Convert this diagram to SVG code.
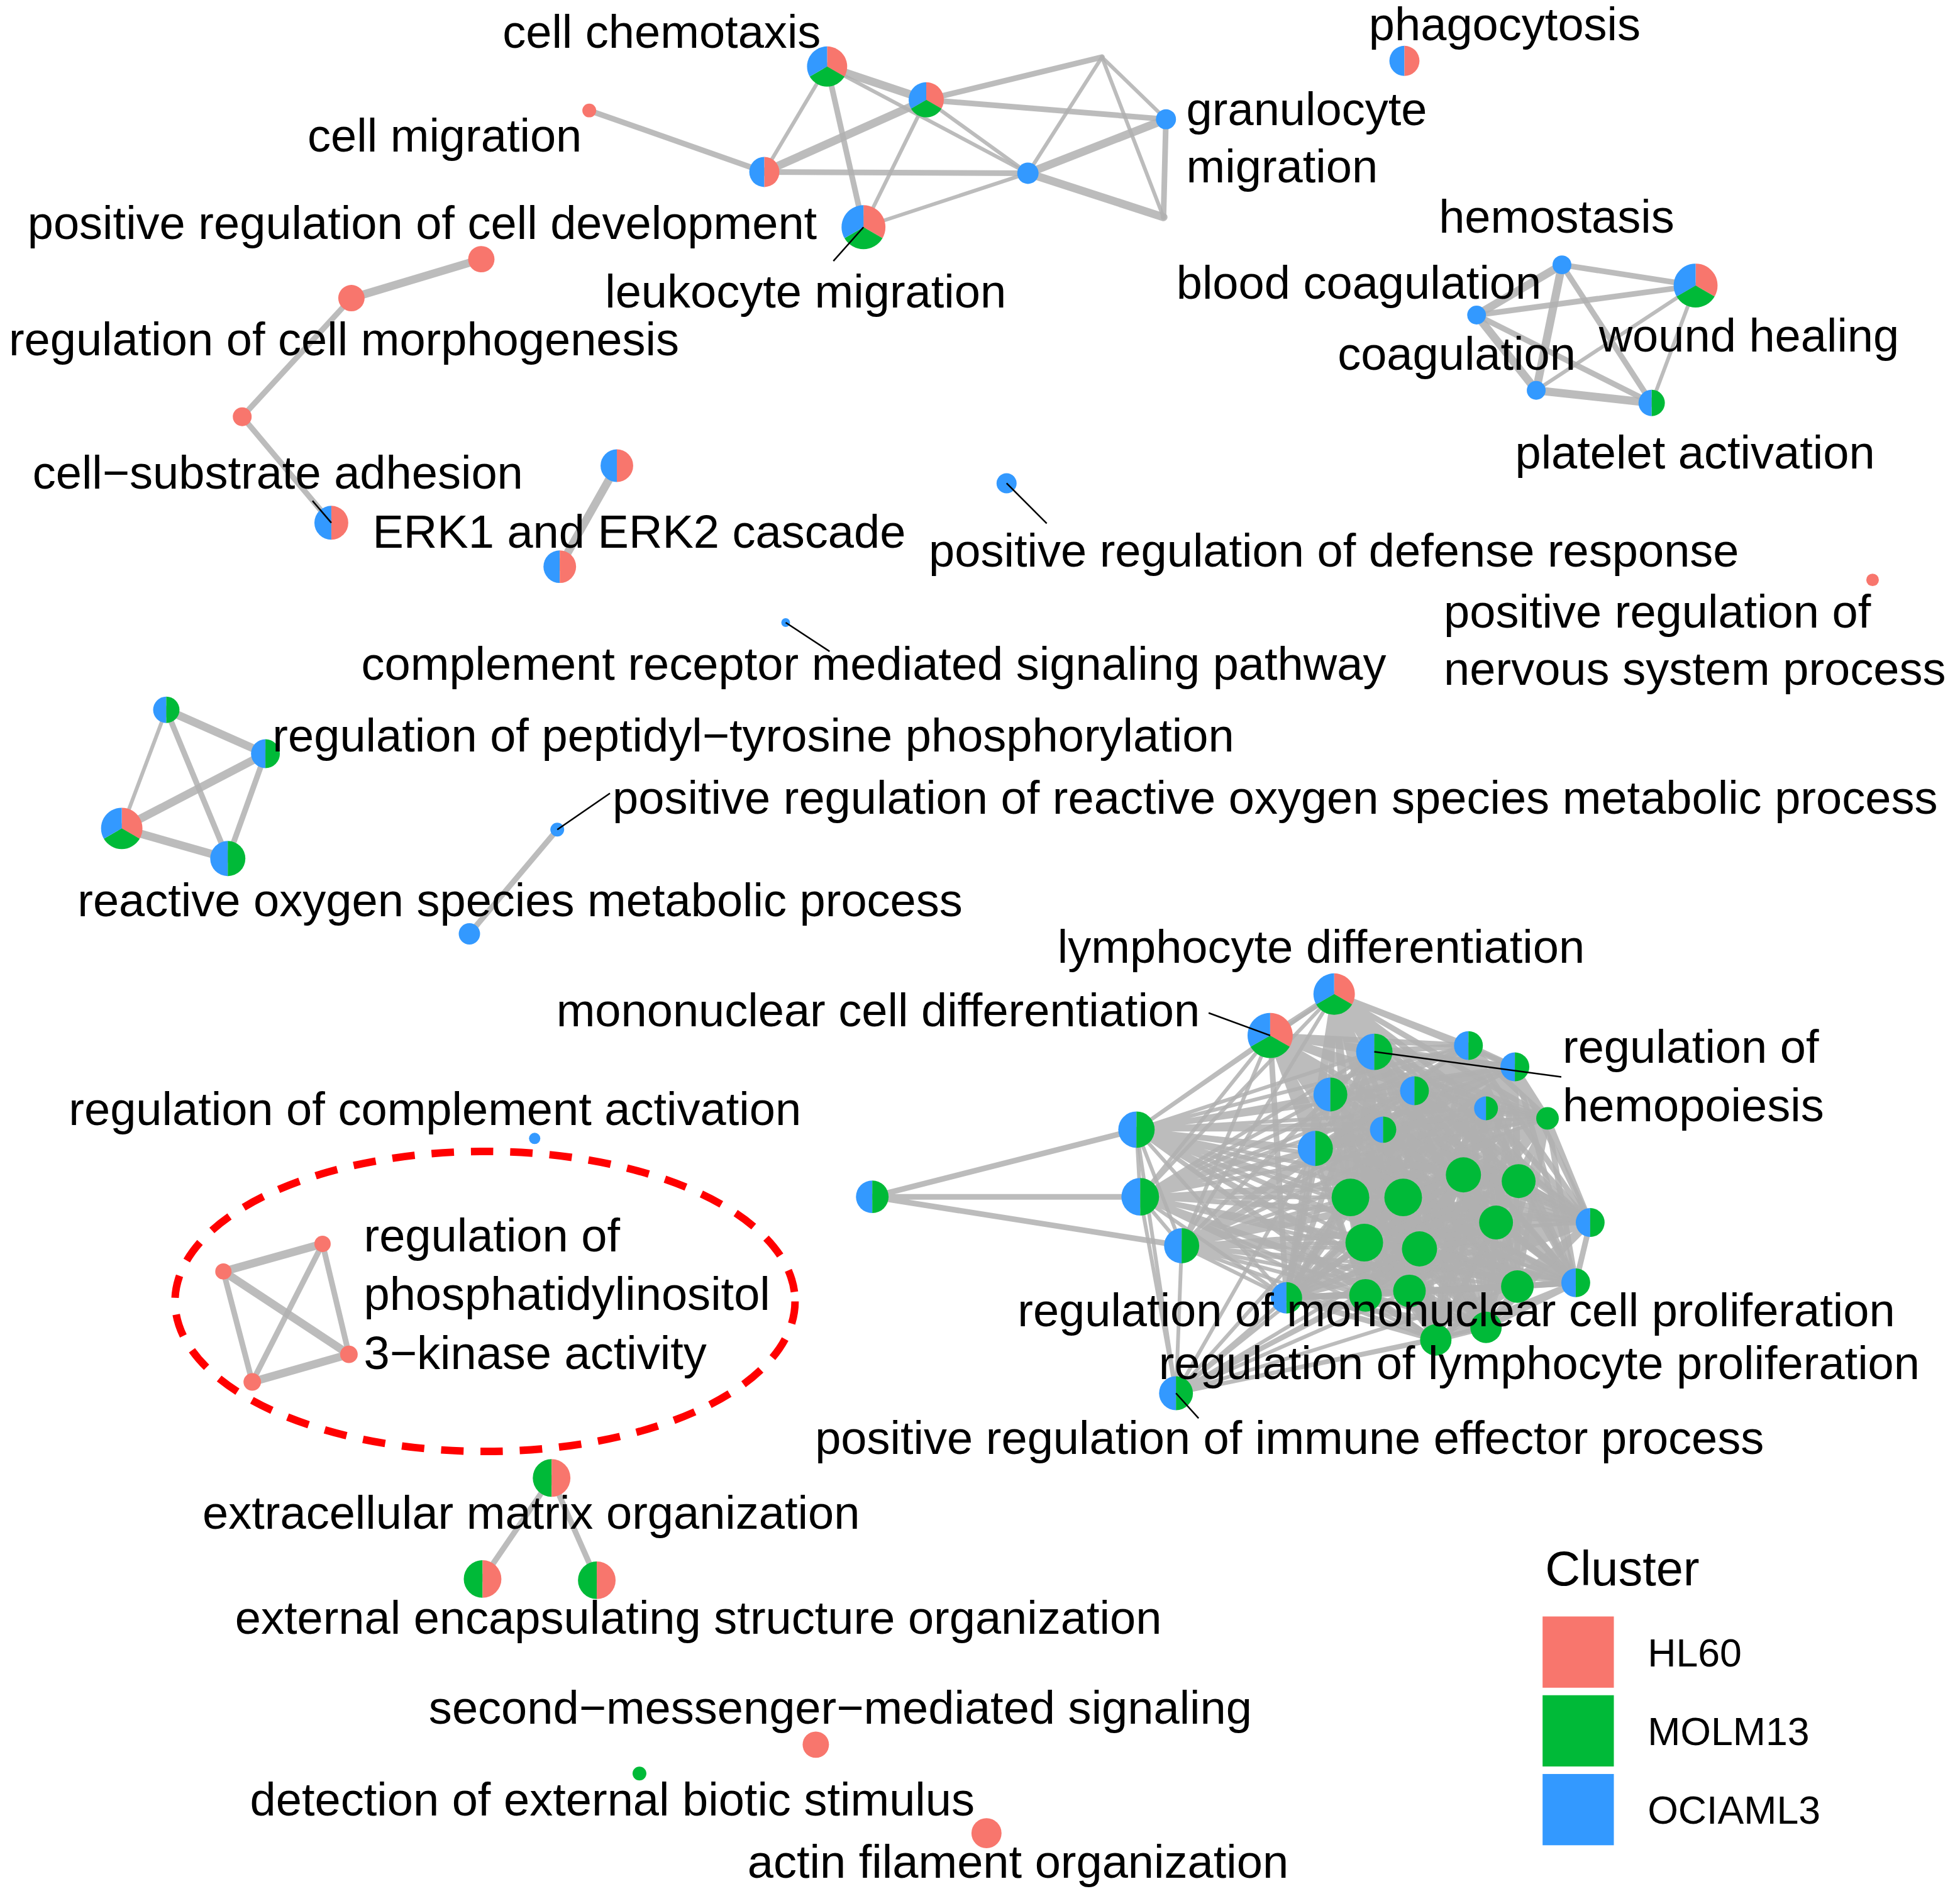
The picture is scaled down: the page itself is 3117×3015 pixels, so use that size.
<svg xmlns="http://www.w3.org/2000/svg" xmlns:xlink="http://www.w3.org/1999/xlink" width="3117" height="3015" viewBox="0 0 3117 3015">
<style>
text{font-family:"Liberation Sans",Arial,Helvetica,sans-serif;font-size:74.5px;fill:#000}
#edges{stroke:#b0b0b0;stroke-opacity:0.85;fill:none;stroke-linecap:round;stroke-linejoin:round}
.e1{stroke-width:6}.e2{stroke-width:9}.e3{stroke-width:13}.ec{stroke-width:6}.ek{stroke-width:9}
.hl{fill:#F8766D}.mo{fill:#00BA38}.oc{fill:#3399FF}
.ld{stroke:#000;stroke-width:2.5}
.lg{font-size:63px}
</style>
<defs>
<g id="p3"><path class="hl" d="M0,0L0,-1A1,1 0 0 1 0.866,0.5Z"/><path class="mo" d="M0,0L0.866,0.5A1,1 0 0 1 -0.866,0.5Z"/><path class="oc" d="M0,0L-0.866,0.5A1,1 0 0 1 0,-1Z"/></g>
<g id="pBG"><path class="oc" d="M0,-1A1,1 0 0 0 0,1Z"/><path class="mo" d="M0,-1A1,1 0 0 1 0,1Z"/></g>
<g id="pBR"><path class="oc" d="M0,-1A1,1 0 0 0 0,1Z"/><path class="hl" d="M0,-1A1,1 0 0 1 0,1Z"/></g>
<g id="pGR"><path class="mo" d="M0,-1A1,1 0 0 0 0,1Z"/><path class="hl" d="M0,-1A1,1 0 0 1 0,1Z"/></g>
</defs>
<rect width="3117" height="3015" fill="#fff"/>
<g id="plot" transform="scale(0.994)">
<ellipse id="highlight" cx="776" cy="2082" rx="496" ry="240" fill="none" stroke="#FF0000" stroke-width="12" stroke-dasharray="36 27"/>
<g id="graph" transform="scale(1.004)">
<g id="edges">
<line class="e2" x1="939" y1="176" x2="1218" y2="274"/>
<line class="e1" x1="1318" y1="106" x2="1218" y2="274"/>
<line class="e3" x1="1318" y1="106" x2="1476" y2="159"/>
<line class="e2" x1="1318" y1="106" x2="1376" y2="362"/>
<line class="e1" x1="1318" y1="106" x2="1638" y2="276"/>
<line class="e3" x1="1218" y1="274" x2="1476" y2="159"/>
<line class="e2" x1="1218" y1="274" x2="1638" y2="276"/>
<line class="e1" x1="1476" y1="159" x2="1376" y2="362"/>
<line class="e2" x1="1476" y1="159" x2="1756" y2="91"/>
<line class="e2" x1="1476" y1="159" x2="1858" y2="190"/>
<line class="e1" x1="1476" y1="159" x2="1638" y2="276"/>
<line class="e1" x1="1376" y1="362" x2="1638" y2="276"/>
<line class="e1" x1="1638" y1="276" x2="1756" y2="91"/>
<line class="e3" x1="1638" y1="276" x2="1858" y2="190"/>
<line class="e3" x1="1638" y1="276" x2="1854" y2="346"/>
<line class="e1" x1="1756" y1="91" x2="1858" y2="190"/>
<line class="e1" x1="1756" y1="91" x2="1854" y2="346"/>
<line class="e2" x1="1858" y1="190" x2="1854" y2="346"/>
<line class="e2" x1="2489" y1="422" x2="2702" y2="455"/>
<line class="e3" x1="2489" y1="422" x2="2353" y2="502"/>
<line class="e3" x1="2489" y1="422" x2="2448" y2="622"/>
<line class="e2" x1="2489" y1="422" x2="2632" y2="642"/>
<line class="e2" x1="2353" y1="502" x2="2702" y2="455"/>
<line class="e3" x1="2353" y1="502" x2="2448" y2="622"/>
<line class="e2" x1="2353" y1="502" x2="2632" y2="642"/>
<line class="e1" x1="2448" y1="622" x2="2702" y2="455"/>
<line class="e3" x1="2448" y1="622" x2="2632" y2="642"/>
<line class="e1" x1="2702" y1="455" x2="2632" y2="642"/>
<line class="e3" x1="767" y1="413" x2="560" y2="475"/>
<line class="e2" x1="560" y1="475" x2="386" y2="664"/>
<line class="e2" x1="386" y1="664" x2="528" y2="833"/>
<line class="e3" x1="983" y1="742" x2="892" y2="903"/>
<line class="e3" x1="265" y1="1131" x2="423" y2="1201"/>
<line class="e1" x1="265" y1="1131" x2="194" y2="1320"/>
<line class="e2" x1="265" y1="1131" x2="363" y2="1368"/>
<line class="e3" x1="423" y1="1201" x2="194" y2="1320"/>
<line class="e2" x1="423" y1="1201" x2="363" y2="1368"/>
<line class="e3" x1="194" y1="1320" x2="363" y2="1368"/>
<line class="e2" x1="888" y1="1322" x2="748" y2="1488"/>
<line class="e3" x1="514" y1="1982" x2="356" y2="2026"/>
<line class="e3" x1="356" y1="2026" x2="556" y2="2158"/>
<line class="e2" x1="514" y1="1982" x2="402" y2="2202"/>
<line class="e2" x1="514" y1="1982" x2="556" y2="2158"/>
<line class="e2" x1="356" y1="2026" x2="402" y2="2202"/>
<line class="e3" x1="402" y1="2202" x2="556" y2="2158"/>
<line class="e2" x1="879" y1="2355" x2="769" y2="2516"/>
<line class="e2" x1="879" y1="2355" x2="951" y2="2518"/>
<path class="e2" d="M1811,1800L1390,1907 1817,1907M1883,1985L1390,1907"/>
<path class="ec" d="M2126,1584L1811,1800 2024,1650M2190,1676L1811,1800 2340,1666M2414,1700L1811,1800 2120,1744M2254,1738L1811,1800 2368,1766M2466,1782L1811,1800 2204,1800M2096,1830L1811,1800 2152,1908M2236,1908L1811,1800 2332,1872M2420,1882L1811,1800 2384,1948M2534,1948L1811,1800 2174,1980M2262,1990L1811,1800 2176,2064M2246,2057L1811,1800 2418,2050M2511,2044L1811,1800 2050,2068M2368,2115L1811,1800 2288,2135M1817,1907L1811,1800 1883,1985"/>
<path class="ec" d="M2126,1584L1817,1907 2024,1650M2190,1676L1817,1907 2340,1666M2414,1700L1817,1907 2120,1744M2254,1738L1817,1907 2368,1766M2466,1782L1817,1907 2204,1800M2096,1830L1817,1907 2152,1908M2236,1908L1817,1907 2332,1872M2420,1882L1817,1907 2384,1948M2534,1948L1817,1907 2174,1980M2262,1990L1817,1907 2176,2064M2246,2057L1817,1907 2418,2050M2511,2044L1817,1907 2050,2068M2368,2115L1817,1907 2288,2135M1883,1985L1817,1907"/>
<path class="ec" d="M2126,1584L1883,1985 2024,1650M2190,1676L1883,1985 2340,1666M2414,1700L1883,1985 2120,1744M2254,1738L1883,1985 2368,1766M2466,1782L1883,1985 2204,1800M2096,1830L1883,1985 2152,1908M2236,1908L1883,1985 2332,1872M2420,1882L1883,1985 2384,1948M2534,1948L1883,1985 2174,1980M2262,1990L1883,1985 2176,2064M2246,2057L1883,1985 2418,2050M2511,2044L1883,1985 2050,2068M2368,2115L1883,1985 2288,2135"/>
<path class="ec" d="M1811,1800L1874,2220 1817,1907M1883,1985L1874,2220 2050,2068M2176,2064L1874,2220 2246,2057M2174,1980L1874,2220 2288,2135M2368,2115L1874,2220 2418,2050M2096,1830L1874,2220 2152,1908M2262,1990L1874,2220 2384,1948"/>
<path class="ek" d="M2024,1650L2126,1584 2190,1676M2340,1666L2126,1584 2414,1700M2120,1744L2126,1584 2254,1738M2368,1766L2126,1584 2466,1782M2204,1800L2126,1584 2096,1830M2152,1908L2126,1584 2236,1908M2332,1872L2126,1584 2420,1882M2384,1948L2126,1584 2534,1948M2174,1980L2126,1584 2262,1990M2176,2064L2126,1584 2246,2057M2418,2050L2126,1584 2511,2044M2050,2068L2126,1584 2368,2115M2288,2135L2126,1584"/>
<path class="ek" d="M2190,1676L2024,1650 2340,1666M2414,1700L2024,1650 2120,1744M2254,1738L2024,1650 2368,1766M2466,1782L2024,1650 2204,1800M2096,1830L2024,1650 2152,1908M2236,1908L2024,1650 2332,1872M2420,1882L2024,1650 2384,1948M2534,1948L2024,1650 2174,1980M2262,1990L2024,1650 2176,2064M2246,2057L2024,1650 2418,2050M2511,2044L2024,1650 2050,2068M2368,2115L2024,1650 2288,2135"/>
<path class="ek" d="M2340,1666L2190,1676 2414,1700M2120,1744L2190,1676 2254,1738M2368,1766L2190,1676 2466,1782M2204,1800L2190,1676 2096,1830M2152,1908L2190,1676 2236,1908M2332,1872L2190,1676 2420,1882M2384,1948L2190,1676 2534,1948M2174,1980L2190,1676 2262,1990M2176,2064L2190,1676 2246,2057M2418,2050L2190,1676 2511,2044M2050,2068L2190,1676 2368,2115M2288,2135L2190,1676"/>
<path class="ek" d="M2414,1700L2340,1666 2120,1744M2254,1738L2340,1666 2368,1766M2466,1782L2340,1666 2204,1800M2096,1830L2340,1666 2152,1908M2236,1908L2340,1666 2332,1872M2420,1882L2340,1666 2384,1948M2534,1948L2340,1666 2174,1980M2262,1990L2340,1666 2176,2064M2246,2057L2340,1666 2418,2050M2511,2044L2340,1666 2050,2068M2368,2115L2340,1666 2288,2135"/>
<path class="ek" d="M2120,1744L2414,1700 2254,1738M2368,1766L2414,1700 2466,1782M2204,1800L2414,1700 2096,1830M2152,1908L2414,1700 2236,1908M2332,1872L2414,1700 2420,1882M2384,1948L2414,1700 2534,1948M2174,1980L2414,1700 2262,1990M2176,2064L2414,1700 2246,2057M2418,2050L2414,1700 2511,2044M2050,2068L2414,1700 2368,2115M2288,2135L2414,1700"/>
<path class="ek" d="M2254,1738L2120,1744 2368,1766M2466,1782L2120,1744 2204,1800M2096,1830L2120,1744 2152,1908M2236,1908L2120,1744 2332,1872M2420,1882L2120,1744 2384,1948M2534,1948L2120,1744 2174,1980M2262,1990L2120,1744 2176,2064M2246,2057L2120,1744 2418,2050M2511,2044L2120,1744 2050,2068M2368,2115L2120,1744 2288,2135"/>
<path class="ek" d="M2368,1766L2254,1738 2466,1782M2204,1800L2254,1738 2096,1830M2152,1908L2254,1738 2236,1908M2332,1872L2254,1738 2420,1882M2384,1948L2254,1738 2534,1948M2174,1980L2254,1738 2262,1990M2176,2064L2254,1738 2246,2057M2418,2050L2254,1738 2511,2044M2050,2068L2254,1738 2368,2115M2288,2135L2254,1738"/>
<path class="ek" d="M2466,1782L2368,1766 2204,1800M2096,1830L2368,1766 2152,1908M2236,1908L2368,1766 2332,1872M2420,1882L2368,1766 2384,1948M2534,1948L2368,1766 2174,1980M2262,1990L2368,1766 2176,2064M2246,2057L2368,1766 2418,2050M2511,2044L2368,1766 2050,2068M2368,2115L2368,1766 2288,2135"/>
<path class="ek" d="M2204,1800L2466,1782 2096,1830M2152,1908L2466,1782 2236,1908M2332,1872L2466,1782 2420,1882M2384,1948L2466,1782 2534,1948M2174,1980L2466,1782 2262,1990M2176,2064L2466,1782 2246,2057M2418,2050L2466,1782 2511,2044M2050,2068L2466,1782 2368,2115M2288,2135L2466,1782"/>
<path class="ek" d="M2096,1830L2204,1800 2152,1908M2236,1908L2204,1800 2332,1872M2420,1882L2204,1800 2384,1948M2534,1948L2204,1800 2174,1980M2262,1990L2204,1800 2176,2064M2246,2057L2204,1800 2418,2050M2511,2044L2204,1800 2050,2068M2368,2115L2204,1800 2288,2135"/>
<path class="ek" d="M2152,1908L2096,1830 2236,1908M2332,1872L2096,1830 2420,1882M2384,1948L2096,1830 2534,1948M2174,1980L2096,1830 2262,1990M2176,2064L2096,1830 2246,2057M2418,2050L2096,1830 2511,2044M2050,2068L2096,1830 2368,2115M2288,2135L2096,1830"/>
<path class="ek" d="M2236,1908L2152,1908 2332,1872M2420,1882L2152,1908 2384,1948M2534,1948L2152,1908 2174,1980M2262,1990L2152,1908 2176,2064M2246,2057L2152,1908 2418,2050M2511,2044L2152,1908 2050,2068M2368,2115L2152,1908 2288,2135"/>
<path class="ek" d="M2332,1872L2236,1908 2420,1882M2384,1948L2236,1908 2534,1948M2174,1980L2236,1908 2262,1990M2176,2064L2236,1908 2246,2057M2418,2050L2236,1908 2511,2044M2050,2068L2236,1908 2368,2115M2288,2135L2236,1908"/>
<path class="ek" d="M2420,1882L2332,1872 2384,1948M2534,1948L2332,1872 2174,1980M2262,1990L2332,1872 2176,2064M2246,2057L2332,1872 2418,2050M2511,2044L2332,1872 2050,2068M2368,2115L2332,1872 2288,2135"/>
<path class="ek" d="M2384,1948L2420,1882 2534,1948M2174,1980L2420,1882 2262,1990M2176,2064L2420,1882 2246,2057M2418,2050L2420,1882 2511,2044M2050,2068L2420,1882 2368,2115M2288,2135L2420,1882"/>
<path class="ek" d="M2534,1948L2384,1948 2174,1980M2262,1990L2384,1948 2176,2064M2246,2057L2384,1948 2418,2050M2511,2044L2384,1948 2050,2068M2368,2115L2384,1948 2288,2135"/>
<path class="ek" d="M2174,1980L2534,1948 2262,1990M2176,2064L2534,1948 2246,2057M2418,2050L2534,1948 2511,2044M2050,2068L2534,1948 2368,2115M2288,2135L2534,1948"/>
<path class="ek" d="M2262,1990L2174,1980 2176,2064M2246,2057L2174,1980 2418,2050M2511,2044L2174,1980 2050,2068M2368,2115L2174,1980 2288,2135"/>
<path class="ek" d="M2176,2064L2262,1990 2246,2057M2418,2050L2262,1990 2511,2044M2050,2068L2262,1990 2368,2115M2288,2135L2262,1990"/>
<path class="ek" d="M2246,2057L2176,2064 2418,2050M2511,2044L2176,2064 2050,2068M2368,2115L2176,2064 2288,2135"/>
<path class="ek" d="M2418,2050L2246,2057 2511,2044M2050,2068L2246,2057 2368,2115M2288,2135L2246,2057"/>
<path class="ek" d="M2511,2044L2418,2050 2050,2068M2368,2115L2418,2050 2288,2135"/>
<path class="ek" d="M2050,2068L2511,2044 2368,2115M2288,2135L2511,2044"/>
<path class="ek" d="M2368,2115L2050,2068 2288,2135M2368,2115L2288,2135"/>
</g>
<g id="nodes">
<g id="n-cell-chemotaxis"><use href="#p3" transform="translate(1318,106) scale(32)"/></g>
<g id="n-top-2"><use href="#p3" transform="translate(1476,159) scale(28)"/></g>
<g id="n-cell-migration"><circle class="hl" cx="939" cy="176" r="11"/></g>
<g id="n-top-4"><use href="#pBR" transform="translate(1218,274) scale(24)"/></g>
<g id="n-leukocyte-migration"><use href="#p3" transform="translate(1376,362) scale(35)"/></g>
<g id="n-top-6"><circle class="oc" cx="1638" cy="276" r="17"/></g>
<g id="n-granulocyte-migration"><circle class="oc" cx="1858" cy="190" r="16"/></g>
<g id="n-phagocytosis"><use href="#pBR" transform="translate(2238,97) scale(24)"/></g>
<g id="n-hemostasis"><circle class="oc" cx="2489" cy="422" r="15"/></g>
<g id="n-blood-coagulation"><circle class="oc" cx="2353" cy="502" r="15"/></g>
<g id="n-wound-healing"><use href="#p3" transform="translate(2702,455) scale(35)"/></g>
<g id="n-coagulation"><circle class="oc" cx="2448" cy="622" r="15"/></g>
<g id="n-platelet-activation"><use href="#pBG" transform="translate(2632,642) scale(21)"/></g>
<g id="n-pos-reg-cell-development"><circle class="hl" cx="767" cy="413" r="21"/></g>
<g id="n-reg-cell-morphogenesis"><circle class="hl" cx="560" cy="475" r="21"/></g>
<g id="n-chain-3"><circle class="hl" cx="386" cy="664" r="15"/></g>
<g id="n-cell-substrate-adhesion"><use href="#pBR" transform="translate(528,833) scale(27)"/></g>
<g id="n-erk-1"><use href="#pBR" transform="translate(983,742) scale(26)"/></g>
<g id="n-erk-2"><use href="#pBR" transform="translate(892,903) scale(26)"/></g>
<g id="n-pos-reg-defense-response"><circle class="oc" cx="1604" cy="770" r="16"/></g>
<g id="n-complement-receptor"><circle class="oc" cx="1252" cy="992" r="7"/></g>
<g id="n-pos-reg-nervous-system"><circle class="hl" cx="2984" cy="924" r="10"/></g>
<g id="n-left-1"><use href="#pBG" transform="translate(265,1131) scale(21)"/></g>
<g id="n-reg-peptidyl-tyrosine"><use href="#pBG" transform="translate(423,1201) scale(23)"/></g>
<g id="n-left-3"><use href="#p3" transform="translate(194,1320) scale(33)"/></g>
<g id="n-left-4"><use href="#pBG" transform="translate(363,1368) scale(28)"/></g>
<g id="n-pos-reg-ros"><circle class="oc" cx="888" cy="1322" r="11"/></g>
<g id="n-ros-metabolic"><circle class="oc" cx="748" cy="1488" r="17"/></g>
<g id="n-reg-complement-activation"><circle class="oc" cx="852" cy="1814" r="9"/></g>
<g id="n-pi3k-1"><circle class="hl" cx="514" cy="1982" r="13"/></g>
<g id="n-pi3k-2"><circle class="hl" cx="356" cy="2026" r="13"/></g>
<g id="n-pi3k-3"><circle class="hl" cx="556" cy="2158" r="14"/></g>
<g id="n-pi3k-4"><circle class="hl" cx="402" cy="2202" r="14"/></g>
<g id="n-ecm-organization"><use href="#pGR" transform="translate(879,2355) scale(30)"/></g>
<g id="n-ees-1"><use href="#pGR" transform="translate(769,2516) scale(30)"/></g>
<g id="n-ees-2"><use href="#pGR" transform="translate(951,2518) scale(30)"/></g>
<g id="n-second-messenger"><circle class="hl" cx="1300" cy="2780" r="21"/></g>
<g id="n-detection-biotic"><circle class="mo" cx="1019" cy="2826" r="11"/></g>
<g id="n-actin-filament"><circle class="hl" cx="1572" cy="2921" r="24"/></g>
<g id="n-lymphocyte-differentiation"><use href="#p3" transform="translate(2126,1584) scale(33)"/></g>
<g id="n-mononuclear-differentiation"><use href="#p3" transform="translate(2024,1650) scale(36)"/></g>
<g id="n-reg-hemopoiesis"><use href="#pBG" transform="translate(2190,1676) scale(29)"/></g>
<g id="n-im-d"><use href="#pBG" transform="translate(2340,1666) scale(23)"/></g>
<g id="n-im-e"><use href="#pBG" transform="translate(2414,1700) scale(23)"/></g>
<g id="n-im-f"><use href="#pBG" transform="translate(2120,1744) scale(27)"/></g>
<g id="n-im-g"><use href="#pBG" transform="translate(2254,1738) scale(23)"/></g>
<g id="n-im-h"><use href="#pBG" transform="translate(2368,1766) scale(19)"/></g>
<g id="n-im-i"><circle class="mo" cx="2466" cy="1782" r="18"/></g>
<g id="n-im-j"><use href="#pBG" transform="translate(2204,1800) scale(21)"/></g>
<g id="n-im-k"><use href="#pBG" transform="translate(2096,1830) scale(28)"/></g>
<g id="n-im-l"><use href="#pBG" transform="translate(1811,1800) scale(29)"/></g>
<g id="n-im-m"><use href="#pBG" transform="translate(1817,1907) scale(30)"/></g>
<g id="n-im-n"><use href="#pBG" transform="translate(1390,1907) scale(26)"/></g>
<g id="n-im-o"><use href="#pBG" transform="translate(1883,1985) scale(28)"/></g>
<g id="n-im-p"><circle class="mo" cx="2152" cy="1908" r="30"/></g>
<g id="n-im-q"><circle class="mo" cx="2236" cy="1908" r="30"/></g>
<g id="n-im-r"><circle class="mo" cx="2332" cy="1872" r="28"/></g>
<g id="n-im-s"><circle class="mo" cx="2420" cy="1882" r="27"/></g>
<g id="n-im-t"><circle class="mo" cx="2384" cy="1948" r="27"/></g>
<g id="n-im-u"><use href="#pBG" transform="translate(2534,1948) scale(23)"/></g>
<g id="n-im-v"><circle class="mo" cx="2174" cy="1980" r="30"/></g>
<g id="n-im-w"><circle class="mo" cx="2262" cy="1990" r="28"/></g>
<g id="n-im-x"><circle class="mo" cx="2176" cy="2064" r="26"/></g>
<g id="n-im-y"><circle class="mo" cx="2246" cy="2057" r="26"/></g>
<g id="n-im-z"><circle class="mo" cx="2418" cy="2050" r="26"/></g>
<g id="n-im-aa"><use href="#pBG" transform="translate(2511,2044) scale(23)"/></g>
<g id="n-reg-mononuclear-proliferation"><use href="#pBG" transform="translate(2050,2068) scale(25)"/></g>
<g id="n-reg-lymphocyte-proliferation"><circle class="mo" cx="2368" cy="2115" r="25"/></g>
<g id="n-im-ad"><circle class="mo" cx="2288" cy="2135" r="25"/></g>
<g id="n-pos-reg-immune-effector"><use href="#pBG" transform="translate(1874,2220) scale(27)"/></g>
</g>
<g id="leaders">
<line class="ld" x1="1376" y1="362" x2="1328" y2="416"/>
<line class="ld" x1="528" y1="833" x2="498" y2="798"/>
<line class="ld" x1="1604" y1="770" x2="1668" y2="834"/>
<line class="ld" x1="1252" y1="992" x2="1322" y2="1038"/>
<line class="ld" x1="888" y1="1322" x2="972" y2="1264"/>
<line class="ld" x1="1926" y1="1614" x2="2024" y2="1650"/>
<line class="ld" x1="2190" y1="1676" x2="2488" y2="1716"/>
<line class="ld" x1="1874" y1="2220" x2="1910" y2="2260"/>
</g>
</g>
<g id="labels">
<text x="804" y="76">cell chemotaxis</text>
<text x="2190" y="64">phagocytosis</text>
<text x="1898" y="200">granulocyte</text>
<text x="1898" y="292">migration</text>
<text x="492" y="242">cell migration</text>
<text x="44" y="382">positive regulation of cell development</text>
<text x="968" y="492">leukocyte migration</text>
<text x="2302" y="372">hemostasis</text>
<text x="1882" y="478">blood coagulation</text>
<text x="2558" y="562">wound healing</text>
<text x="2140" y="592">coagulation</text>
<text x="2424" y="750">platelet activation</text>
<text x="14" y="568">regulation of cell morphogenesis</text>
<text x="52" y="782">cell−substrate adhesion</text>
<text x="596" y="876">ERK1 and ERK2 cascade</text>
<text x="1486" y="906">positive regulation of defense response</text>
<text x="2310" y="1004">positive regulation of</text>
<text x="2310" y="1096">nervous system process</text>
<text x="578" y="1088">complement receptor mediated signaling pathway</text>
<text x="436" y="1202">regulation of peptidyl−tyrosine phosphorylation</text>
<text x="980" y="1302">positive regulation of reactive oxygen species metabolic process</text>
<text x="124" y="1466">reactive oxygen species metabolic process</text>
<text x="1692" y="1540">lymphocyte differentiation</text>
<text x="890" y="1642">mononuclear cell differentiation</text>
<text x="2500" y="1700">regulation of</text>
<text x="2500" y="1794">hemopoiesis</text>
<text x="110" y="1800">regulation of complement activation</text>
<text x="582" y="2002">regulation of</text>
<text x="582" y="2096">phosphatidylinositol</text>
<text x="582" y="2190">3−kinase activity</text>
<text x="1628" y="2122">regulation of mononuclear cell proliferation</text>
<text x="1854" y="2206">regulation of lymphocyte proliferation</text>
<text x="1304" y="2326">positive regulation of immune effector process</text>
<text x="324" y="2446">extracellular matrix organization</text>
<text x="376" y="2614">external encapsulating structure organization</text>
<text x="686" y="2758">second−messenger−mediated signaling</text>
<text x="400" y="2904">detection of external biotic stimulus</text>
<text x="1196" y="3004">actin filament organization</text>
</g>
<g id="legend">
<text x="2472" y="2536" style="font-size:78px">Cluster</text>
<rect class="hl" x="2468" y="2586" width="114" height="114"/>
<rect class="mo" x="2468" y="2712" width="114" height="114"/>
<rect class="oc" x="2468" y="2838" width="114" height="114"/>
<text class="lg" x="2636" y="2666">HL60</text>
<text class="lg" x="2636" y="2792">MOLM13</text>
<text class="lg" x="2636" y="2918">OCIAML3</text>
</g>
</g>
</svg>
